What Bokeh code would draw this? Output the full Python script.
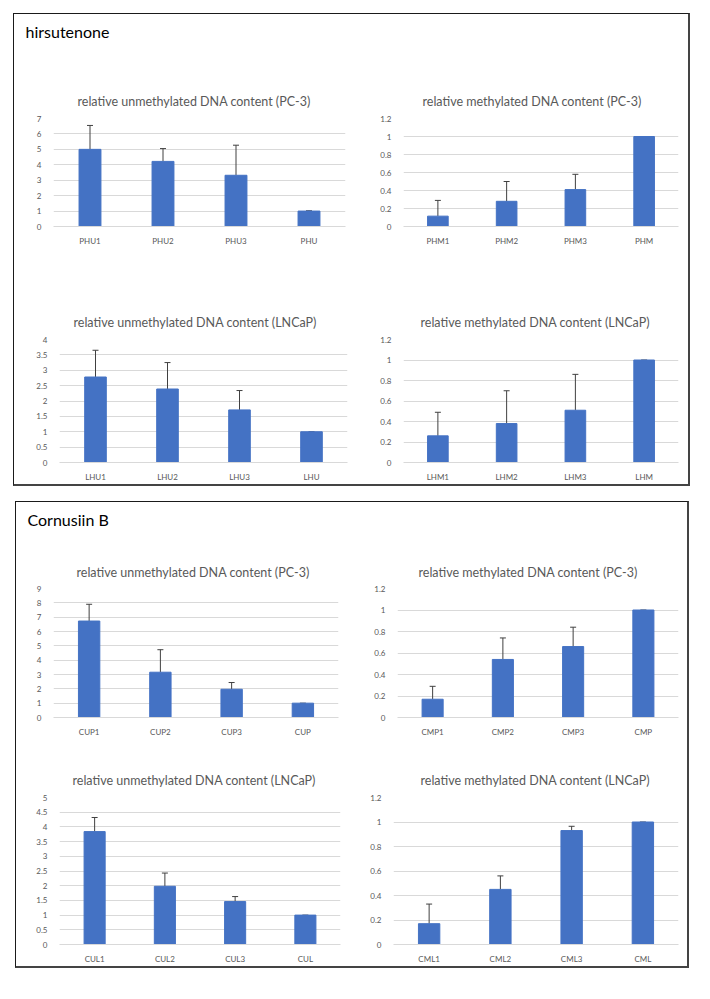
from bokeh.plotting import figure
from bokeh.models import FactorRange, Range1d, FixedTicker, ColumnDataSource, Whisker, TeeHead, Spacer
from bokeh.layouts import column, row
from bokeh.embed import file_html
from bokeh.resources import INLINE

# ---------------- data ----------------
phu_cats = ["PHU1", "PHU2", "PHU3", "PHU"]
phu_vals = [5.0, 4.22, 3.32, 1.0]
phu_err = [1.55, 0.83, 1.95, 0.02]

phm_cats = ["PHM1", "PHM2", "PHM3", "PHM"]
phm_vals = [0.115, 0.28, 0.41, 1.0]
phm_err = [0.175, 0.22, 0.17, 0.0]

lhu_cats = ["LHU1", "LHU2", "LHU3", "LHU"]
lhu_vals = [2.78, 2.39, 1.71, 1.0]
lhu_err = [0.87, 0.86, 0.63, 0.0]

lhm_cats = ["LHM1", "LHM2", "LHM3", "LHM"]
lhm_vals = [0.26, 0.38, 0.51, 1.0]
lhm_err = [0.23, 0.32, 0.35, 0.0]

cup_cats = ["CUP1", "CUP2", "CUP3", "CUP"]
cup_vals = [6.73, 3.16, 1.97, 1.0]
cup_err = [1.17, 1.57, 0.47, 0.0]

cmp_cats = ["CMP1", "CMP2", "CMP3", "CMP"]
cmp_vals = [0.17, 0.54, 0.66, 1.0]
cmp_err = [0.12, 0.20, 0.18, 0.0]

cul_cats = ["CUL1", "CUL2", "CUL3", "CUL"]
cul_vals = [3.84, 1.98, 1.46, 1.0]
cul_err = [0.48, 0.45, 0.17, 0.0]

cml_cats = ["CML1", "CML2", "CML3", "CML"]
cml_vals = [0.17, 0.45, 0.93, 1.0]
cml_err = [0.16, 0.11, 0.035, 0.0]

ticks_7 = [0, 1, 2, 3, 4, 5, 6, 7]
labels_7 = ["0", "1", "2", "3", "4", "5", "6", "7"]
ticks_9 = [0, 1, 2, 3, 4, 5, 6, 7, 8, 9]
labels_9 = ["0", "1", "2", "3", "4", "5", "6", "7", "8", "9"]
ticks_12 = [0, 0.2, 0.4, 0.6, 0.8, 1.0, 1.2]
labels_12 = ["0", "0.2", "0.4", "0.6", "0.8", "1", "1.2"]
ticks_4 = [0, 0.5, 1, 1.5, 2, 2.5, 3, 3.5, 4]
labels_4 = ["0", "0.5", "1", "1.5", "2", "2.5", "3", "3.5", "4"]
ticks_5 = [0, 0.5, 1, 1.5, 2, 2.5, 3, 3.5, 4, 4.5, 5]
labels_5 = ["0", "0.5", "1", "1.5", "2", "2.5", "3", "3.5", "4", "4.5", "5"]

title_u_pc3 = "relative unmethylated DNA content (PC-3)"
title_m_pc3 = "relative methylated DNA content (PC-3)"
title_u_ln = "relative unmethylated DNA content (LNCaP)"
title_m_ln = "relative methylated DNA content (LNCaP)"

BAR = "#4472C4"
GRID = "#d9d9d9"
TXT = "#595959"
FONT = "Lato"


def chart(cats, vals, errs, ticks, labels, title, w, h, bl, br, bt, bb, toff, tstand):
    p = figure(x_range=FactorRange(*cats), y_range=Range1d(0, ticks[-1]),
               width=w, height=h, output_backend="svg", toolbar_location=None,
               min_border_left=bl, min_border_right=br,
               min_border_top=bt, min_border_bottom=bb)
    upper = [v + e for v, e in zip(vals, errs)]
    src = ColumnDataSource(dict(cat=cats, val=vals, upper=upper))
    p.vbar(x="cat", top="val", width=0.3, source=src, fill_color=BAR, line_color=BAR)
    p.add_layout(Whisker(source=src, base="cat", upper="upper", lower="val",
                         line_color="#404040", line_width=1,
                         upper_head=TeeHead(size=6, line_color="#404040", line_width=1),
                         lower_head=None))
    p.title.text = title
    p.title.align = "left"
    p.title.offset = toff
    p.title.text_font = FONT
    p.title.text_font_size = "12.5px"
    p.title.text_font_style = "normal"
    p.title.text_color = TXT
    p.title.standoff = tstand
    p.yaxis.ticker = FixedTicker(ticks=ticks)
    p.yaxis.major_label_overrides = dict(zip(ticks, labels))
    p.yaxis.axis_line_color = None
    p.yaxis.major_tick_line_color = None
    p.yaxis.minor_tick_line_color = None
    p.yaxis.major_label_text_font = FONT
    p.yaxis.major_label_text_font_size = "8px"
    p.yaxis.major_label_text_color = TXT
    p.yaxis.major_label_standoff = 6
    p.xaxis.axis_line_color = GRID
    p.xaxis.major_tick_line_color = None
    p.xaxis.minor_tick_line_color = None
    p.xaxis.major_label_text_font = FONT
    p.xaxis.major_label_text_font_size = "8px"
    p.xaxis.major_label_text_color = TXT
    p.xaxis.major_label_standoff = 3
    p.xgrid.grid_line_color = None
    p.ygrid.grid_line_color = GRID
    p.outline_line_color = None
    p.background_fill_color = "white"
    p.border_fill_color = "white"
    return p


def header(text, w, h, offset):
    p = figure(width=w, height=h, x_range=Range1d(0, 1), y_range=Range1d(0, 1),
               output_backend="svg", toolbar_location=None,
               min_border_left=0, min_border_right=0, min_border_top=0, min_border_bottom=0)
    p.axis.visible = False
    p.grid.grid_line_color = None
    p.outline_line_color = None
    p.title.text = text
    p.title.align = "left"
    p.title.offset = offset
    p.title.text_font = FONT
    p.title.text_font_size = "16px"
    p.title.text_font_style = "normal"
    p.title.text_color = "black"
    return p


BOX_STYLE = {"border-left": "1px solid #1a1a1a", "border-top": "1px solid #1a1a1a",
             "border-right": "2px solid #444444", "border-bottom": "2px solid #444444"}

# box 1 (hirsutenone)
h1 = header("hirsutenone", 674, 46, 11)
c1 = chart(phu_cats, phu_vals, phu_err, ticks_7, labels_7, title_u_pc3, 351, 190, 39, 20, 58, 24, 24, 20)
c2 = chart(phm_cats, phm_vals, phm_err, ticks_12, labels_12, title_m_pc3, 323, 190, 38, 10, 58, 24, 19, 20)
c3 = chart(lhu_cats, lhu_vals, lhu_err, ticks_4, labels_4, title_u_ln, 351, 234, 45, 18, 89, 21, 14, 20)
c4 = chart(lhm_cats, lhm_vals, lhm_err, ticks_12, labels_12, title_m_ln, 323, 234, 38, 10, 89, 21, 17, 19)
box1 = column(h1, row(c1, c2), row(c3, c4), styles=BOX_STYLE)

# box 2 (Cornusiin B)
h2 = header("Cornusiin B", 671, 40, 11)
c5 = chart(cup_cats, cup_vals, cup_err, ticks_9, labels_9, title_u_pc3, 349, 197, 37, 27, 46, 21, 23, 18)
c6 = chart(cmp_cats, cmp_vals, cmp_err, ticks_12, labels_12, title_m_pc3, 322, 197, 32, 9, 46, 21, 21, 18)
c7 = chart(cul_cats, cul_vals, cul_err, ticks_5, labels_5, title_u_ln, 349, 227, 43, 25, 58, 21, 13, 20)
c8 = chart(cml_cats, cml_vals, cml_err, ticks_12, labels_12, title_m_ln, 322, 227, 28, 9, 58, 21, 27, 20)
box2 = column(h2, row(c5, c6), row(c7, c8), styles=BOX_STYLE)

page = column(Spacer(width=700, height=13),
              row(Spacer(width=13, height=10), box1),
              Spacer(width=700, height=15),
              row(Spacer(width=15, height=10), box2))

open("out.html", "w").write(file_html(page, INLINE))
